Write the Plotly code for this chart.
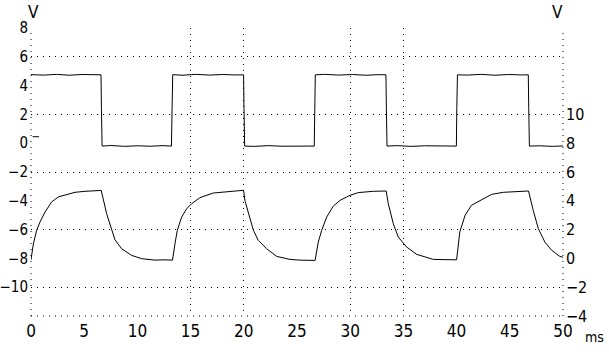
import plotly.graph_objects as go

# Channel 1: square wave (left axis, V)
ch1_t = [0, 1.2, 2.4, 3.6, 4.8, 6.0, 6.58, 6.62, 6.68, 7.5, 8.8, 10.0, 11.2, 12.4,
         13.2, 13.26, 13.32, 14.2, 15.5, 16.8, 18.0, 19.2, 19.98, 20.02, 20.08,
         21.0, 22.3, 23.6, 24.9, 26.0, 26.62, 26.66, 26.72, 27.6, 28.9, 30.2, 31.5,
         32.7, 33.36, 33.40, 33.46, 34.4, 35.7, 37.0, 38.3, 39.4, 39.98, 40.02, 40.08,
         41.0, 42.3, 43.6, 44.9, 46.1, 46.74, 46.78, 46.84, 47.8, 49.0, 50]
ch1_v = [4.76, 4.73, 4.78, 4.72, 4.77, 4.74, 4.75, 2.4, -0.2, -0.16, -0.22, -0.18, -0.21, -0.17,
         -0.2, 2.4, 4.76, 4.72, 4.78, 4.73, 4.77, 4.74, 4.75, 2.4, -0.2,
         -0.22, -0.17, -0.21, -0.18, -0.2, -0.2, 2.4, 4.75, 4.78, 4.73, 4.77, 4.72,
         4.76, 4.75, 2.4, -0.2, -0.17, -0.22, -0.18, -0.21, -0.19, -0.2, 2.4, 4.75,
         4.73, 4.78, 4.72, 4.77, 4.74, 4.75, 2.4, -0.2, -0.18, -0.22, -0.19]

# Channel 2: RC response (right axis, V)
ch2_t = [0, 0.22, 0.53, 0.85, 1.32, 1.94, 2.57, 3.35, 4.14, 5.08, 6.0, 6.6,
         7.11, 7.58, 7.89, 8.52, 9.46, 10.4, 11.65, 12.5, 13.3,
         13.53, 13.75, 14.16, 14.63, 15.1, 15.88, 17.13, 18.4, 19.98,
         20.1, 20.43, 20.9, 21.36, 22.15, 23.09, 24.34, 25.3, 26.7,
         27.0, 27.32, 27.79, 28.4, 29.04, 29.98, 30.76, 32.17, 33.38,
         33.58, 34.05, 34.52, 35.31, 36.25, 37.81, 38.7, 40.0,
         40.3, 40.8, 41.4, 42.2, 43.3, 44.4, 45.65, 46.76,
         47.2, 47.68, 48.3, 48.94, 49.7, 50]
ch2_v = [-0.1, 1.0, 1.95, 2.53, 3.22, 3.92, 4.27, 4.45, 4.59, 4.66, 4.70, 4.72,
         3.1, 1.95, 1.3, 0.67, 0.21, -0.02, -0.12, -0.1, -0.12,
         1.02, 1.95, 2.87, 3.45, 3.8, 4.22, 4.54, 4.64, 4.73,
         4.03, 3.1, 1.95, 1.25, 0.67, 0.14, -0.07, -0.12, -0.14,
         1.13, 1.95, 2.87, 3.62, 4.03, 4.38, 4.57, 4.66, 4.68,
         3.8, 2.41, 1.48, 0.79, 0.28, -0.07, -0.1, -0.1,
         1.83, 3.0, 3.69, 4.03, 4.45, 4.59, 4.66, 4.68,
         3.34, 2.07, 1.13, 0.56, 0.14, 0.08]

x_ticks = list(range(0, 51, 5))
x_grid = [15, 20, 30, 35]
y1_ticks = list(range(-10, 9, 2))
y1_grid = [-10, -6, -2, 2, 6]
y2_ticks = list(range(-4, 11, 2))

FONT = "Liberation Sans Narrow, DejaVu Sans Condensed, Arial Narrow, sans-serif"
DOT = "1px,5px"

fig = go.Figure()
fig.add_trace(go.Scatter(x=ch1_t, y=ch1_v, mode="lines",
                         line=dict(color="black", width=1), yaxis="y"))
fig.add_trace(go.Scatter(x=ch2_t, y=ch2_v, mode="lines",
                         line=dict(color="black", width=1), yaxis="y2"))

fig.update_layout(
    width=609, height=352,
    margin=dict(l=31, r=46, t=28, b=36, autoexpand=False),
    paper_bgcolor="white", plot_bgcolor="white",
    showlegend=False,
    font=dict(family=FONT, size=17, color="black"),
    xaxis=dict(range=[0, 50], tickvals=x_ticks, ticks="", showgrid=False,
               zeroline=False, showline=False, ticklabelstandoff=3, automargin=False,
               minor=dict(tickvals=x_grid, showgrid=True, gridcolor="black",
                          gridwidth=1, griddash=DOT, ticks="")),
    yaxis=dict(range=[-12, 8], tickvals=y1_ticks, ticks="", showgrid=False,
               zeroline=False, showline=False, ticklabelstandoff=2, automargin=False,
               tickfont=dict(size=15),
               minor=dict(tickvals=y1_grid, showgrid=True, gridcolor="black",
                          gridwidth=1, griddash=DOT, ticks="")),
    yaxis2=dict(range=[-4, 16], tickvals=y2_ticks, ticks="", showgrid=False,
                zeroline=False, showline=False, overlaying="y", side="right",
                ticklabelstandoff=2, automargin=False, tickfont=dict(size=16)),
)

# plot frame: dotted left, right, bottom borders
for (x0, y0, x1, y1) in [(0, 0, 0, 1), (1, 0, 1, 1), (0, 0, 1, 0)]:
    fig.add_shape(type="line", xref="paper", yref="paper", x0=x0, y0=y0, x1=x1, y1=y1,
                  line=dict(color="black", width=1, dash=DOT), layer="below")

# ground marker next to the left "0"
fig.add_shape(type="line", xref="paper", yref="y", x0=0.003, x1=0.015, y0=0.45, y1=0.45,
              line=dict(color="black", width=1))

fig.add_annotation(text="V", xref="paper", yref="paper", x=0.005, y=1.0, xanchor="center",
                   yanchor="bottom", showarrow=False, yshift=4, font=dict(size=17))
fig.add_annotation(text="V", xref="paper", yref="paper", x=0.99, y=1.0, xanchor="center",
                   yanchor="bottom", showarrow=False, yshift=4, font=dict(size=17))
fig.add_annotation(text="ms", xref="paper", yref="paper", x=1.0, y=0, xanchor="left",
                   yanchor="top", showarrow=False, xshift=20, yshift=-11, font=dict(size=14))

fig.write_html("out.html")
